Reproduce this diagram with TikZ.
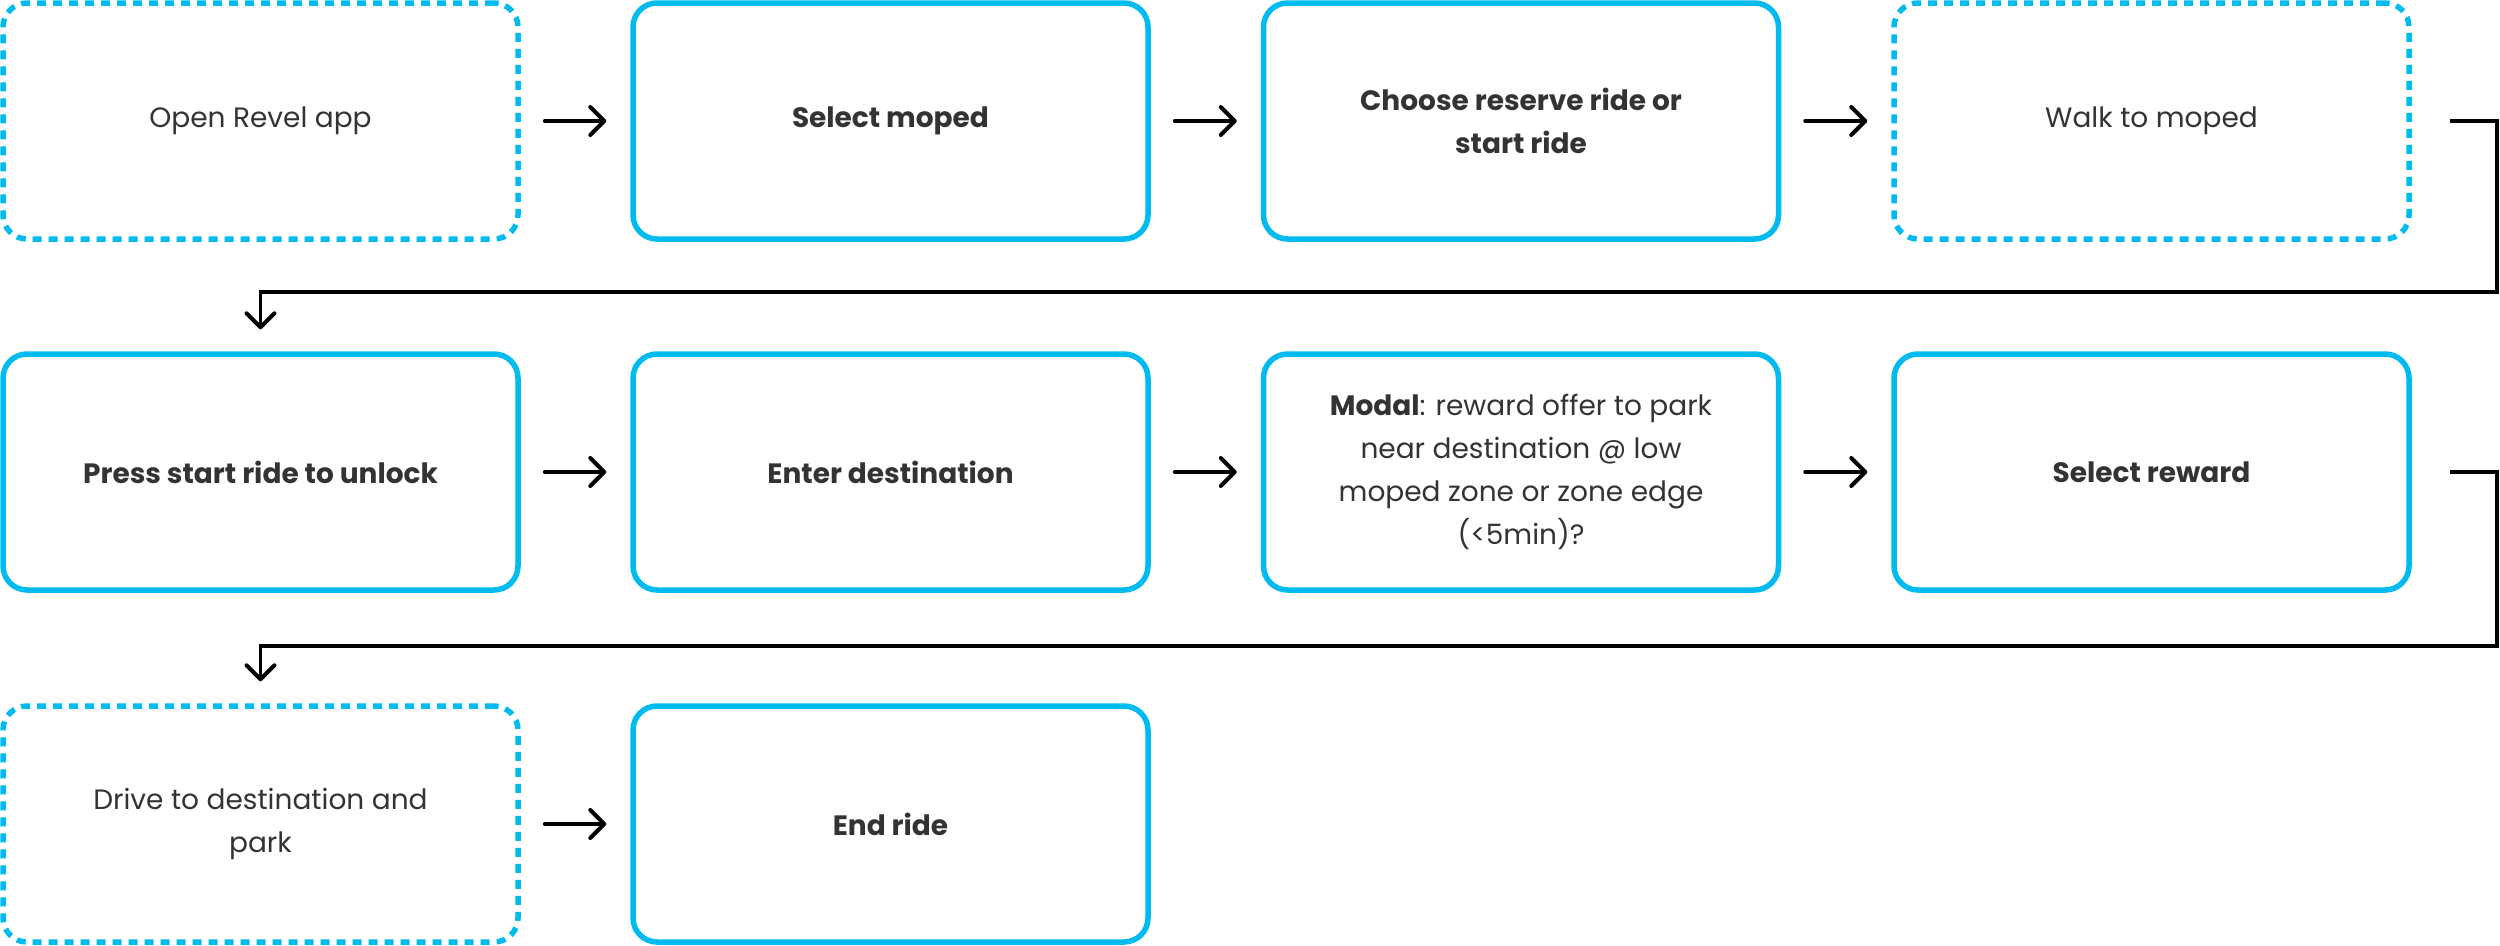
\documentclass[tikz,border=0pt]{standalone}
\usepackage{fontspec}
\setmainfont{Poppins}
\usetikzlibrary{arrows.meta,positioning}
\definecolor{boxblue}{RGB}{0,186,240}
\definecolor{txt}{RGB}{51,51,51}
\tikzset{
  stepbox/.style={draw=boxblue, line width=5.5pt, rounded corners=24pt, rectangle,
    minimum width=515pt, minimum height=236pt, align=center, text=txt,
    font=\fontsize{28pt}{43pt}\selectfont, inner sep=0pt},
  dotbox/.style={stepbox, dash pattern=on 9pt off 7pt},
  arr/.style={draw=black, line width=4pt, line cap=round,
    -{Straight Barb[length=14pt,width=28pt,line width=4pt,round]}},
  elbow/.style={draw=black, line width=3.2pt,
    -{Straight Barb[length=14pt,width=28pt,line width=4pt,round]}},
}
\begin{document}
\begin{tikzpicture}[x=1pt,y=-1pt]
\useasboundingbox (0,0) rectangle (2500,945);
\node[dotbox] (a) at (260.5,121) {Open Revel app};
\node[stepbox] (b) at (890.5,121) {\textbf{Select moped}};
\node[stepbox] (c) at (1521,121) {\textbf{Choose reserve ride or}\\\textbf{start ride}};
\node[dotbox] (d) at (2151.5,121) {Walk to moped};
\node[stepbox] (e) at (260.5,472) {\textbf{Press start ride to unlock}};
\node[stepbox] (f) at (890.5,472) {\textbf{Enter destination}};
\node[stepbox] (g) at (1521,472) {\textbf{Modal}: reward offer to park\\near destination @ low\\moped zone or zone edge\\(<5min)?};
\node[stepbox] (h) at (2151.5,472) {\textbf{Select reward}};
\node[dotbox] (i) at (260.5,824) {Drive to destination and\\park};
\node[stepbox] (j) at (890.5,824) {\textbf{End ride}};
\coordinate (k1) at (2497,292);
\coordinate (k2) at (2497,646);
\draw[arr] ([xshift=24pt]a.east) -- ([xshift=-24pt]b.west);
\draw[arr] ([xshift=24pt]b.east) -- ([xshift=-24pt]c.west);
\draw[arr] ([xshift=24pt]c.east) -- ([xshift=-24pt]d.west);
\draw[arr] ([xshift=24pt]e.east) -- ([xshift=-24pt]f.west);
\draw[arr] ([xshift=24pt]f.east) -- ([xshift=-24pt]g.west);
\draw[arr] ([xshift=24pt]g.east) -- ([xshift=-24pt]h.west);
\draw[arr] ([xshift=24pt]i.east) -- ([xshift=-24pt]j.west);
\draw[elbow] ([xshift=38pt]d.east) -| (k1) -| ([yshift=22pt]e.north);
\draw[elbow] ([xshift=38pt]h.east) -| (k2) -| ([yshift=22pt]i.north);
\end{tikzpicture}
\end{document}
